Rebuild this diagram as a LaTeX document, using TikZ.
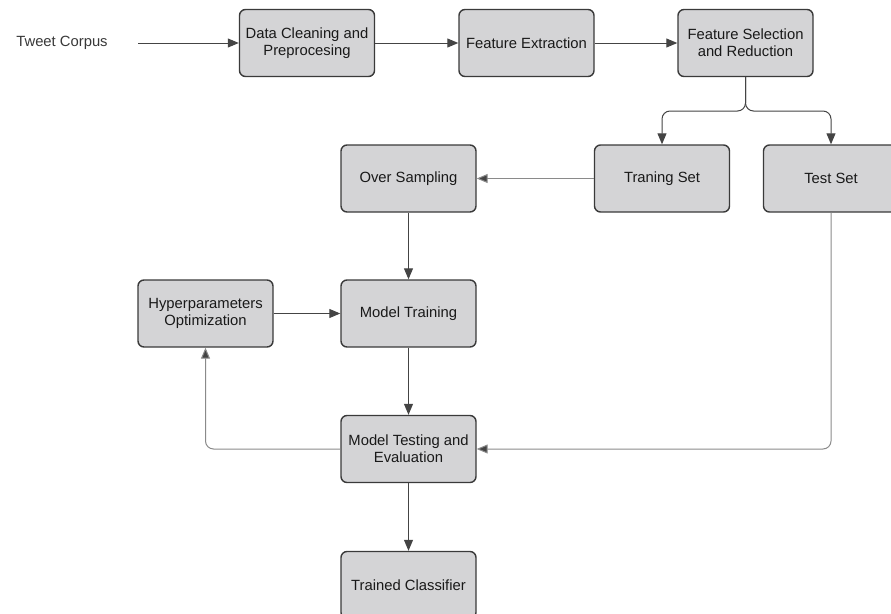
\documentclass[tikz,border=0pt]{standalone}
\usepackage{fontspec}
\setmainfont{Liberation Sans}
\usetikzlibrary{arrows.meta}
\definecolor{boxfill}{HTML}{D4D4D6}
\definecolor{boxline}{HTML}{3A3A3A}
\definecolor{arrdark}{HTML}{444444}
\definecolor{arrlight}{HTML}{8A8A8A}
\begin{document}
\begin{tikzpicture}[x=1pt,y=-1pt,
  procbox/.style={draw=boxline,fill=boxfill,line width=1.4pt,rounded corners=6pt,
    minimum width=135pt,minimum height=67pt,inner sep=2pt,align=center,
    font=\fontsize{14.8}{17}\selectfont,text=black!90},
  conn/.style={draw=arrdark,line width=1pt,-{Triangle[length=11pt,width=9pt]}},
  connl/.style={draw=arrlight,line width=1pt,rounded corners=8pt,-{Triangle[length=11pt,width=9pt,fill=arrdark]}},
  connf/.style={draw=arrdark,line width=1pt,rounded corners=8pt,-{Triangle[length=11pt,width=9pt]}}]
\useasboundingbox (0,0) rectangle (891,613);
\node[font=\fontsize{14.8}{17}\selectfont,text=black!78] (tc) at (62,43) {Tweet Corpus};
\coordinate (tcr) at (138,43);
\node[procbox] (dc) at (307,43) {Data Cleaning and\\Preprocesing};
\node[procbox] (fe) at (526.5,43) {Feature Extraction};
\node[procbox] (fs) at (745.5,43) {Feature Selection\\and Reduction};
\node[procbox] (tr) at (662,178.5) {Traning Set};
\node[procbox] (ts) at (831,178.5) {Test Set};
\node[procbox] (os) at (408.5,178.5) {Over Sampling};
\node[procbox] (hp) at (205.5,313.5) {Hyperparameters\\Optimization};
\node[procbox] (mt) at (408.5,313.5) {Model Training};
\node[procbox] (me) at (408.5,449) {Model Testing and\\Evaluation};
\node[procbox] (tcl) at (408.5,585) {Trained Classifier};
\draw[conn] (tcr) -- (dc);
\draw[conn] (dc) -- (fe);
\draw[conn] (fe) -- (fs);
\draw[connf] (fs.south) -- (745.5,111) -- (tr.north |- 0,111) -- (tr.north);
\draw[connf] (fs.south) -- (745.5,111) -- (ts.north |- 0,111) -- (ts.north);
\draw[connl] (tr) -- (os);
\draw[conn] (os) -- (mt);
\draw[conn] (hp) -- (mt);
\draw[conn] (mt) -- (me);
\draw[connl] (ts.south) -- (ts.south |- me.east) -- (me.east);
\draw[connl] (me.west) -- (hp.south |- me.west) -- (hp.south);
\draw[conn] (me) -- (tcl);
\end{tikzpicture}
\end{document}
